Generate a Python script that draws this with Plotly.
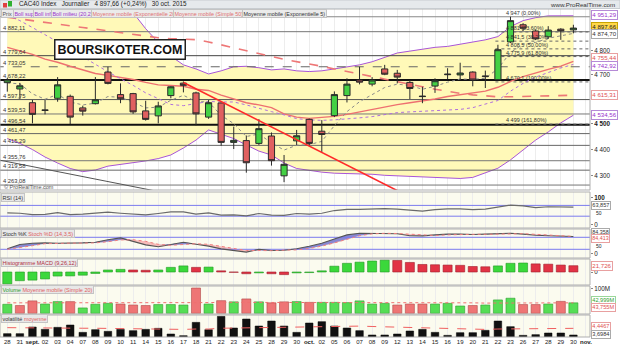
import numpy as np
import plotly.graph_objects as go

# ---------------- data ----------------
dates = ["28","31","<b>sept.</b>","02","03","04","07","08","09","10","11","14","15","16","17","18",
         "21","22","23","24","25","28","29","30","<b>oct.</b>","02","05","06","07","08","09","12",
         "13","14","15","16","19","20","21","22","23","26","27","28","29","30"]
opens  = [4667,4641,4585,4556,4603,4611,4564,4581,4711,4618,4622,4552,4532,4614,4665,4625,4527,4584,4427,4434,
          4423,4452,4298,4433,4518,4471,4533,4614,4678,4661,4724,4706,4668,4612,4653,4700,4699,4711,4692,4679,
          4838,4912,4885,4860,4893,4890]
highs  = [4688,4666,4596,4596,4690,4618,4573,4690,4733,4664,4625,4593,4589,4652,4672,4630,4596,4586,4489,4454,
          4519,4466,4378,4476,4521,4515,4631,4685,4733,4690,4741,4720,4678,4650,4685,4727,4750,4714,4717,4826,
          4947,4919,4890,4906,4897,4912]
lows   = [4630,4600,4502,4538,4589,4499,4533,4578,4660,4583,4540,4513,4502,4603,4627,4494,4520,4414,4401,4310,
          4417,4337,4274,4417,4414,4388,4527,4586,4660,4652,4698,4664,4600,4583,4625,4681,4678,4652,4645,4677,
          4834,4885,4846,4851,4847,4875]
closes = [4678,4654,4538,4554,4658,4527,4551,4597,4664,4601,4548,4518,4572,4650,4656,4540,4585,4427,4435,4348,
          4481,4356,4342,4453,4423,4458,4618,4661,4669,4678,4702,4690,4643,4610,4675,4702,4707,4678,4694,4805,
          4930,4897,4851,4889,4886,4897.66]
boll_sup = [5468,5437,5401,5370,5333,5290,5236,5164,5089,5025,4965,4895,4836,4778,4741,4724,4703,4716,4733,4735,
            4729,4720,4724,4716,4713,4716,4724,4731,4741,4754,4774,4791,4799,4808,4815,4819,4828,4837,4847,4861,
            4904,4930,4943,4951,4951,4951.29]
boll_inf = [4442,4423,4399,4370,4347,4326,4314,4320,4335,4341,4347,4355,4364,4378,4405,4436,4476,4460,4442,4417,
            4393,4378,4347,4326,4318,4312,4308,4307,4306,4304,4300,4298,4296,4294,4292,4290,4288,4292,4308,4327,
            4359,4397,4436,4468,4504,4534.56]
boll_mid = [4955,4930,4900,4870,4840,4808,4775,4742,4712,4683,4656,4625,4600,4578,4573,4580,4590,4588,4588,4576,
            4561,4549,4536,4521,4516,4514,4516,4519,4524,4529,4537,4545,4548,4551,4554,4555,4558,4565,4578,4594,
            4632,4664,4690,4710,4728,4742.92]
ema20 = [4815,4800,4785,4765,4752,4735,4720,4705,4697,4690,4680,4668,4658,4655,4652,4640,4635,4616,4600,4585,
         4576,4565,4540,4527,4522,4525,4530,4538,4548,4558,4568,4577,4585,4592,4600,4610,4618,4625,4632,4648,
         4672,4692,4708,4722,4736,4755.44]
sma50 = [4945,4937,4930,4922,4915,4907,4900,4893,4885,4877,4870,4862,4856,4852,4850,4848,4838,4825,4812,4800,
         4788,4776,4764,4755,4745,4735,4724,4713,4703,4692,4680,4670,4660,4650,4640,4630,4623,4617,4612,4609,
         4609,4610,4611,4612,4614,4615.31]
ema5 = [4666,4662,4621,4599,4619,4588,4576,4583,4610,4607,4587,4564,4567,4595,4615,4590,4588,4534,4501,4450,
        4460,4425,4397,4416,4418,4431,4493,4549,4589,4619,4647,4661,4655,4640,4652,4669,4682,4681,4685,4725,
        4793,4828,4836,4854,4865,4874.70]
levels = [4882.11,4779.64,4733.05,4678.22,4597.75,4539.53,4496.54,4461.47,4415.29,4355.76,4319.58,4263.08]
level_labels = ["4 882,11","4 779,64","4 733,05","4 678,22","4 597,75","4 539,53","4 496,54","4 461,47",
                "4 415,29","4 355,76","4 319,58","4 263,08"]
fib_levels = [4947,4881,4841.5,4808.5,4775.9,4670.1,4499]
fib_labels = ["4 947 (0,00%)","4 881 (23,60%)","4 841,5 (38,20%)","4 808,5 (50,00%)","4 775,9 (61,80%)",
              "4 670,1 (100,00%)","4 499 (161,80%)"]
trend_red_x = [14, 31.6]
trend_red_y = [4668, 4228]
trend_gray_x = [-0.6, 12.3]
trend_gray_y = [4358, 4236]
price_ticks = [4300,4400,4500,4700,4800]
price_tick_text = ["4 300","4 400","<b>4 500</b>","4 700","4 800"]

rsi = [42,41,36,37,43,36,38,41,45,41,37,35,40,46,46,38,42,34,35,31,40,34,33,40,38,41,51,55,55,56,
       58,56,52,49,54,57,57,54,56,64,71,68,62,65,64,63.857]
stoch_k = [23,44,50,52,50,50,52,55,68,77,60,42,33,45,55,45,36,22,15,6,20,14,15,23,35,50,72,92,100,100,
           99,98,88,87,92,96,96,94,96,98,100,96,90,88,86,84.358]
stoch_d = [20,28,38,48,51,51,51,52,58,67,68,60,45,40,44,48,45,34,24,14,14,13,16,17,24,36,52,71,88,97,
           100,99,95,91,89,92,95,95,95,96,98,98,95,91,88,84.413]
macd_hist = [-41,-30,-28,-24,-14,-13.5,-11,-5,7,9,7,6,7,16,21,16,17,4,-1,-6,-3,-6,-9,-3,-2,4,20,30,34,38,
             41,40,33,26,25,24,23,19,18,21,30,31,28,27,24,21.726]
volume = [37,32,51,38,48,48,22,37,41,38,34,32,36,36,34,104,38,52,47,59,47,43,47,48,45,45,45,44,51,38,
          41,34,38,38,38,41,30,32,34,55,62,36,36,38,49,43]
volume_ma = [43,43,43,43,43,43,42,42,42,42,42,41,41,41,41,44,44,45,45,46,46,46,46,46,46,46,46,46,46,46,
             45,45,44,44,44,44,43,43,42,42,42,42,42,42,42,43]
volat = [1.71,1.71,5.13,3.93,4.96,6.16,2.39,3.76,2.91,3.93,3.25,3.93,4.45,1.54,0.68,7.52,3.76,10.6,4.62,9.23,
         5.64,8.21,5.64,2.39,7.18,7.87,5.64,4.62,3.25,1.03,1.03,1.54,3.08,3.93,2.39,0.86,2.22,2.22,3.42,8.21,
         5.30,0.86,1.2,2.05,2.05,1.03]
volat_avg = [4.8,4.7,4.7,4.6,4.6,4.6,4.5,4.5,4.4,4.3,4.2,4.1,4.1,4.0,3.9,4.1,4.1,4.5,4.6,4.9,5.0,5.2,5.3,5.2,
             5.4,5.6,5.7,5.7,5.6,5.4,5.2,5.0,4.8,4.7,4.6,4.3,4.2,4.0,3.9,4.1,4.2,4.2,4.3,4.3,4.4,4.4467]

# ---------------- layout helpers ----------------
W, H, PB = 620, 349, 12
PH = H - PB
def py(pix):
    return (PH - pix) / PH

n = len(dates)
X = list(range(n))
FONT = "Liberation Sans, Arial, sans-serif"
MAIN_RANGE = [np.log10(4244.5), np.log10(4981)]

fig = go.Figure()

# Bollinger band fill
fig.add_trace(go.Scatter(x=X, y=boll_sup, mode="lines", line=dict(color="#A855D8", width=1), yaxis="y"))
fig.add_trace(go.Scatter(x=X, y=boll_inf, mode="lines", line=dict(color="#A855D8", width=1),
                         fill="tonexty", fillcolor="#FFF9B8", yaxis="y"))

# horizontal support / resistance lines
lvl_styles = [("#777", 1, "solid"), ("#444", 1, "solid"), ("#666", 1, "dash"), ("#111", 2, "solid"),
              ("#555", 1, "solid"), ("#777", 1, "solid"), ("#111", 2, "solid"), ("#666", 1, "solid"),
              ("#666", 1, "solid"), ("#777", 1, "solid"), ("#666", 1, "solid"), ("#777", 1, "solid")]
for v, (c, w, d) in zip(levels, lvl_styles):
    fig.add_trace(go.Scatter(x=[-1, 48], y=[v, v], mode="lines", line=dict(color=c, width=w, dash=d), yaxis="y"))

# fibonacci lines
for k, v in enumerate(fib_levels):
    if k == 0:
        fig.add_trace(go.Scatter(x=[-1, 48], y=[v, v], mode="lines", line=dict(color="#888", width=1), yaxis="y"))
    else:
        fig.add_trace(go.Scatter(x=[38.8, 48], y=[v, v], mode="lines",
                                 line=dict(color="#666", width=1, dash="dot"), yaxis="y"))

# long-term trend line
fig.add_trace(go.Scatter(x=trend_gray_x, y=trend_gray_y, mode="lines", line=dict(color="#555", width=1), yaxis="y"))

# moving averages
fig.add_trace(go.Scatter(x=X, y=sma50, mode="lines", line=dict(color="#EE7777", width=1.6, dash="dash"), yaxis="y"))
fig.add_trace(go.Scatter(x=X, y=ema20, mode="lines", line=dict(color="#EE7070", width=1.4), yaxis="y"))
fig.add_trace(go.Scatter(x=X, y=boll_mid, mode="lines", line=dict(color="#B070DD", width=1, dash="dot"), yaxis="y"))
fig.add_trace(go.Scatter(x=X, y=ema5, mode="lines", line=dict(color="#8A8A8A", width=1, dash="dot"), yaxis="y"))

# candles (on an overlaying axis so they are drawn above the band fill)
fig.add_trace(go.Candlestick(x=X, open=opens, high=highs, low=lows, close=closes, yaxis="y7",
                             increasing=dict(fillcolor="#44D044", line=dict(color="#2a2a2a", width=1)),
                             decreasing=dict(fillcolor="#E06060", line=dict(color="#2a2a2a", width=1)),
                             whiskerwidth=0))
fig.add_trace(go.Scatter(x=trend_red_x, y=trend_red_y, mode="lines", line=dict(color="#FF2A2A", width=1.6), yaxis="y7"))

# RSI
for v in (70, 30):
    fig.add_trace(go.Scatter(x=[-1, 48], y=[v, v], mode="lines", line=dict(color="#7B7BEE", width=1), yaxis="y2"))
fig.add_trace(go.Scatter(x=X, y=rsi, mode="lines", line=dict(color="#6A6A6A", width=1.2), yaxis="y2"))

# Stochastic
kk = np.array(stoch_k, dtype=float)
dd = np.array(stoch_d, dtype=float)
fig.add_trace(go.Scatter(x=X, y=dd, mode="lines", line=dict(width=0), yaxis="y3"))
fig.add_trace(go.Scatter(x=X, y=np.maximum(kk, dd), mode="lines", line=dict(width=0), fill="tonexty",
                         fillcolor="rgba(115,115,205,0.85)", yaxis="y3"))
fig.add_trace(go.Scatter(x=X, y=dd, mode="lines", line=dict(width=0), yaxis="y3"))
fig.add_trace(go.Scatter(x=X, y=np.minimum(kk, dd), mode="lines", line=dict(width=0), fill="tonexty",
                         fillcolor="rgba(245,175,175,0.85)", yaxis="y3"))
for v in (80, 20):
    fig.add_trace(go.Scatter(x=[-1, 48], y=[v, v], mode="lines", line=dict(color="#7B7BEE", width=1), yaxis="y3"))
fig.add_trace(go.Scatter(x=X, y=stoch_k, mode="lines", line=dict(color="#555", width=1.1), yaxis="y3"))
fig.add_trace(go.Scatter(x=X, y=stoch_d, mode="lines", line=dict(color="#F08080", width=1, dash="dot"), yaxis="y3"))

# MACD histogram
mcol = ["#3BD83B" if (i == 0 or macd_hist[i] >= macd_hist[i - 1]) else "#E23345" for i in range(n)]
mline = ["#229922" if c == "#3BD83B" else "#A01F2C" for c in mcol]
fig.add_trace(go.Bar(x=X, y=macd_hist, width=0.72, marker=dict(color=mcol, line=dict(color=mline, width=0.6)),
                     yaxis="y4"))

# Volume
vcol = ["#55DD55" if (i == 0 or closes[i] >= closes[i - 1]) else "#EE7575" for i in range(n)]
vline = ["#2E9E2E" if c == "#55DD55" else "#B04848" for c in vcol]
fig.add_trace(go.Bar(x=X, y=volume, width=0.72, marker=dict(color=vcol, line=dict(color=vline, width=0.6)),
                     yaxis="y5"))
fig.add_trace(go.Scatter(x=X, y=volume_ma, mode="lines", line=dict(color="#F07070", width=1, dash="dot"), yaxis="y5"))

# Volatility
fig.add_trace(go.Bar(x=X, y=volat, width=0.6, marker=dict(color="#111", line=dict(color="#000", width=0.5)),
                     yaxis="y6"))
fig.add_trace(go.Scatter(x=X, y=volat_avg, mode="lines", line=dict(color="#F06060", width=1, dash="dash"), yaxis="y6"))

# ---------------- axes ----------------
tick_font = dict(size=6.3, color="#222", family=FONT)
yax_common = dict(side="right", anchor="x", showgrid=False, zeroline=False, tickfont=tick_font,
                  ticks="outside", ticklen=2, tickcolor="#888", fixedrange=True)
fig.update_layout(
    width=W, height=H,
    margin=dict(l=0, r=30, t=0, b=PB),
    paper_bgcolor="white", plot_bgcolor="white",
    showlegend=False, bargap=0.3,
    xaxis=dict(domain=[0, 1], range=[-0.58, 46.32], anchor="y6", tickvals=X + [46],
               ticktext=dates + ["<b>nov.</b>"], tickfont=dict(size=6, color="#222", family=FONT),
               showgrid=True, gridcolor="#EDEDED", gridwidth=1, zeroline=False, ticks="",
               rangeslider=dict(visible=False), tickangle=0),
    yaxis=dict(domain=[py(190), py(9)], type="log", range=MAIN_RANGE,
               tickvals=price_ticks, ticktext=price_tick_text, **yax_common),
    yaxis7=dict(overlaying="y", type="log", range=MAIN_RANGE, side="right", anchor="x",
                showticklabels=False, showgrid=False, zeroline=False, ticks="", fixedrange=True),
    yaxis2=dict(domain=[py(228), py(192)], range=[-13.7, 119.6], tickvals=[0, 100],
                ticktext=["0", "<b>100</b>"], **yax_common),
    yaxis3=dict(domain=[py(258), py(229)], range=[-23.5, 121.5], tickvals=[0], **yax_common),
    yaxis4=dict(domain=[py(285), py(259)], range=[-44.9, 44.9], tickvals=[0], **yax_common),
    yaxis5=dict(domain=[py(314), py(286)], range=[-2.9, 112.3], tickvals=[100], ticktext=["100M"], **yax_common),
    yaxis6=dict(domain=[0, py(315)], range=[0, 11.3], tickvals=[], **yax_common),
)

# ---------------- shapes (backgrounds, borders, header) ----------------
shapes = []
panels = [(9, 190), (192, 228), (229, 258), (259, 285), (286, 314), (315, 337)]
for k, (a, b) in enumerate(panels):
    if k > 0:
        shapes.append(dict(type="rect", xref="paper", yref="paper", x0=0, x1=1, y0=py(b), y1=py(a),
                           fillcolor="#FBFBEF", line=dict(width=0), layer="below"))
    shapes.append(dict(type="rect", xref="paper", yref="paper", x0=0, x1=1, y0=py(b), y1=py(a),
                       fillcolor="rgba(0,0,0,0)", line=dict(color="#AFAFAF", width=1), layer="above"))
shapes.append(dict(type="rect", xref="paper", yref="paper", x0=0, x1=W / (W - 30), y0=py(8.5), y1=py(0),
                   fillcolor="#E6E9EC", line=dict(color="#C8CCD0", width=1), layer="above"))
shapes.append(dict(type="rect", xref="paper", yref="paper", x0=3 / 590, x1=7 / 590, y0=py(7.5), y1=py(3),
                   fillcolor="#E04040", line=dict(width=0), layer="above"))
shapes.append(dict(type="rect", xref="paper", yref="paper", x0=8 / 590, x1=12 / 590, y0=py(6.5), y1=py(1),
                   fillcolor="#30B030", line=dict(width=0), layer="above"))
fig.update_layout(shapes=shapes)

# ---------------- annotations ----------------
ann = []
def rbox(text, y, yref, color, border, bg="white", yshift=0, size=6.1):
    ann.append(dict(text=text, x=1, xref="paper", y=y, yref=yref,
                    xanchor="left", yanchor="middle", xshift=1, yshift=yshift, showarrow=False,
                    font=dict(size=size, color=color, family=FONT), bgcolor=bg, bordercolor=border,
                    borderwidth=1, borderpad=0.3))

def rtext(text, y, yref, yshift=0):
    ann.append(dict(text=text, x=1, xref="paper", y=y, yref=yref, xanchor="left", yanchor="middle",
                    xshift=4, yshift=yshift, showarrow=False, font=dict(size=5, color="#222", family=FONT)))

def lg(v):
    return float(np.log10(v))

rbox("4 951,29", lg(4951.29), "y", "#9933CC", "#B58AD6", yshift=1)
rbox("4 897,66", lg(4897.66), "y", "#222", "#C9A400", bg="#FFD84A", yshift=1)
rbox("4 874,70", lg(4874.70), "y", "#333", "#AAAAAA", yshift=-1)
rbox("4 755,44", lg(4755.44), "y", "#E05050", "#E8A0A0", yshift=3)
rbox("4 742,92", lg(4742.92), "y", "#9933CC", "#B58AD6", yshift=-2)
rbox("4 615,31", lg(4615.31), "y", "#E05050", "#E8A0A0")
rbox("4 534,56", lg(4534.56), "y", "#9933CC", "#B58AD6")
rbox("63,857", 63.857, "y2", "#333", "#AAAAAA", yshift=2, size=5.6)
rtext("50", 50, "y2", yshift=-2)
rbox("84,358", 84.358, "y3", "#333", "#AAAAAA", yshift=4, size=5.4)
rbox("84,413", 84.413, "y3", "#E05050", "#E8A0A0", yshift=-2, size=5.4)
rtext("50", 50, "y3", yshift=-3)
rbox("21,726", 21.726, "y4", "#E05050", "#E8A0A0")
rbox("42,999M", 42.999, "y5", "#2E9E2E", "#9AD79A", yshift=2.5, size=5.6)
rbox("43,755M", 43.755, "y5", "#E05050", "#E8A0A0", yshift=-5, size=5.6)
rbox("4,4467", 4.4467, "y6", "#E05050", "#E8A0A0", yshift=2, size=5.6)
rbox("3,6984", 3.6984, "y6", "#333", "#AAAAAA", yshift=-5, size=5.6)

for v, t in zip(levels, level_labels):
    ann.append(dict(text=t, x=0, xref="paper", y=lg(v), yref="y", xanchor="left", yanchor="bottom",
                    xshift=1, yshift=-1, showarrow=False, font=dict(size=5.8, color="#333", family=FONT)))
for v, t in zip(fib_levels, fib_labels):
    ann.append(dict(text=t, x=39.5, xref="x", y=lg(v), yref="y", xanchor="left", yanchor="bottom",
                    yshift=-1, showarrow=False, font=dict(size=5.5, color="#333", family=FONT)))

ann.append(dict(text="CAC40 Index   Journalier   4 897,66 (+0,24%)   30 oct. 2015", x=17 / 590, xref="paper",
                y=py(4.3), yref="paper", xanchor="left", yanchor="middle", showarrow=False,
                font=dict(size=6.3, color="#222", family=FONT)))
ann.append(dict(text="www.ProRealTime.com", x=W / 590 - 3 / 590, xref="paper", y=py(4.3), yref="paper",
                xanchor="right", yanchor="middle", showarrow=False, font=dict(size=6.2, color="#333", family=FONT)))

legend_items = [("Prix", "#555", 1), ("Boll sup", "#9933CC", 13), ("Boll inf", "#9933CC", 33),
                ("Boll milieu (20,2)", "#9933CC", 51), ("Moyenne mobile (Exponentielle 20)", "#E07070", 91),
                ("Moyenne mobile (Simple 50)", "#E07070", 173), ("Moyenne mobile (Exponentielle 5)", "#333", 242)]
for t, c, xp in legend_items:
    ann.append(dict(text=t, x=xp / 590, xref="paper", y=py(13.3), yref="paper", xanchor="left", yanchor="middle",
                    showarrow=False, font=dict(size=5.4, color=c, family=FONT), bgcolor="#EBEBEB",
                    bordercolor="#C4C4C4", borderwidth=1, borderpad=0.5))

ann.append(dict(text="<b>BOURSIKOTER.COM</b>", x=120 / 590, xref="paper", y=py(49), yref="paper",
                xanchor="center", yanchor="middle", showarrow=False,
                font=dict(size=12.5, color="#111", family=FONT), bgcolor="white", bordercolor="#222",
                borderwidth=1.5, borderpad=2))
ann.append(dict(text="© ProRealTime.com", x=2 / 590, xref="paper", y=py(187), yref="paper", xanchor="left",
                yanchor="middle", showarrow=False, font=dict(size=5.5, color="#555", family=FONT)))

def ptitle(html, ypix):
    ann.append(dict(text=html, x=1 / 590, xref="paper", y=py(ypix), yref="paper", xanchor="left",
                    yanchor="middle", showarrow=False, font=dict(size=5.5, color="#333", family=FONT),
                    bgcolor="#E8E8E8", bordercolor="#C4C4C4", borderwidth=1, borderpad=0.5))

ptitle("RSI (14)", 197.5)
ptitle('Stoch %K <span style="color:#E06060">Stoch %D (14,3,5)</span>', 233.5)
ptitle('<span style="color:#B03040">Histogramme MACD (9,26,12)</span>', 262.5)
ptitle('<span style="color:#30A030">Volume</span> <span style="color:#E06060">Moyenne mobile (Simple 20)</span>', 289.5)
ptitle('volatilité <span style="color:#E06060">moyenne</span>', 318.5)

fig.update_layout(annotations=ann)
fig.write_html("out.html", config={"displayModeBar": False})
